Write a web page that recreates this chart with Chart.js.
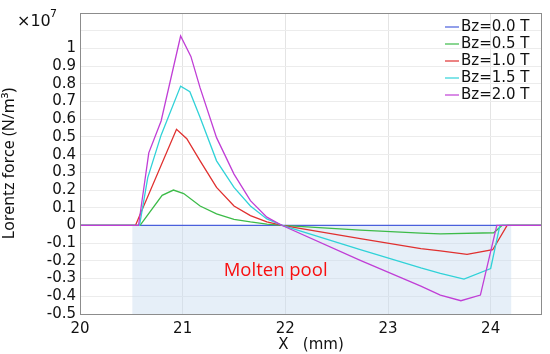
<!doctype html>
<html lang="en">
<head>
<meta charset="utf-8">
<title>Lorentz force</title>
<script src="https://cdn.jsdelivr.net/npm/chart.js@4.4.0/dist/chart.umd.min.js"></script>
<style>
  html, body { margin: 0; padding: 0; background: #fff; }
  #wrap { width: 550px; height: 354px; position: relative; }
</style>
</head>
<body>
<div id="wrap"><canvas id="lorentzChart" width="550" height="354"></canvas></div>
<script>
// values in units of 1e7 N/m^3, x in mm
var labels = ['Bz=0.0 T', 'Bz=0.5 T', 'Bz=1.0 T', 'Bz=1.5 T', 'Bz=2.0 T'];
var colors = ['#4a5fdc', '#3cbb48', '#e0302f', '#30d2d8', '#c03ed6'];
var xTicks = [20, 21, 22, 23, 24];

var x00 = [20, 24.5];
var y00 = [0, 0];
var x05 = [20, 20.585, 20.8, 20.91, 21.01, 21.17, 21.33, 21.5, 21.66, 21.82, 21.97, 22.73, 23.32, 23.51, 24.03, 24.11, 24.5];
var y05 = [0, 0, 0.17, 0.2, 0.18, 0.11, 0.066, 0.035, 0.02, 0.008, 0, -0.026, -0.043, -0.047, -0.041, 0, 0];
var x10 = [20, 20.54, 20.94, 21.04, 21.17, 21.33, 21.5, 21.66, 21.82, 21.97, 22.73, 23.32, 23.51, 23.77, 24.02, 24.16, 24.5];
var y10 = [0, 0, 0.543, 0.49, 0.365, 0.215, 0.11, 0.056, 0.02, 0, -0.074, -0.131, -0.144, -0.163, -0.137, 0, 0];
var x15 = [20, 20.58, 20.66, 20.79, 20.98, 21.07, 21.17, 21.33, 21.5, 21.66, 21.82, 21.97, 22.73, 23.32, 23.51, 23.74, 24.0, 24.09, 24.5];
var y15 = [0, 0, 0.27, 0.51, 0.787, 0.755, 0.61, 0.365, 0.215, 0.11, 0.037, 0, -0.137, -0.24, -0.27, -0.303, -0.243, 0, 0];
var x20 = [20, 20.57, 20.67, 20.79, 20.98, 21.08, 21.17, 21.33, 21.5, 21.66, 21.82, 21.97, 22.73, 23.32, 23.51, 23.71, 23.9, 24.06, 24.5];
var y20 = [0, 0, 0.41, 0.59, 1.07, 0.955, 0.777, 0.496, 0.29, 0.14, 0.047, 0, -0.197, -0.343, -0.393, -0.425, -0.393, 0, 0];

var poolX = [20.51, 24.2];
var poolY = [0, -0.5];

var xs = [x00, x05, x10, x15, x20];
var ys = [y00, y05, y10, y15, y20];

function pts(xa, ya) {
    return xa.map(function (v, i) { return { x: v, y: ya[i] }; });
}

var datasets = labels.map(function (lab, i) {
    return {
        label: lab,
        data: pts(xs[i], ys[i]),
        borderColor: colors[i],
        borderWidth: 1.3,
        pointRadius: 0,
        tension: 0,
        order: 4 - i
    };
});

// shaded molten pool + label, box, x10^7 and legend
var extras = {
    id: 'extras',
    beforeDatasetsDraw: function (chart) {
        var c = chart.ctx, sx = chart.scales.x, sy = chart.scales.y;
        var l = sx.getPixelForValue(poolX[0]), r = sx.getPixelForValue(poolX[1]);
        var t = sy.getPixelForValue(poolY[0]), b = sy.getPixelForValue(poolY[1]);
        c.save();
        c.fillStyle = 'rgba(200,220,240,0.45)';
        c.fillRect(l, t, r - l, b - t);
        c.fillStyle = '#f81010';
        c.font = '18.5px "Open Sans"';
        c.textBaseline = 'middle';
        c.fillText('Molten pool', sx.getPixelForValue(21.4), sy.getPixelForValue(-0.255));
        c.restore();
    },
    afterDraw: function (chart) {
        var c = chart.ctx, a = chart.chartArea;
        c.save();
        c.strokeStyle = '#8c8c8c';
        c.lineWidth = 1;
        c.strokeRect(a.left + 0.5, a.top + 0.5, a.right - a.left - 1, a.bottom - a.top);
        c.fillStyle = '#111';
        c.font = '16px "DejaVu Sans"';
        c.textBaseline = 'alphabetic';
        c.fillText('\u00d710', 17, 26);
        c.font = '11px "DejaVu Sans"';
        c.fillText('7', 50, 17);
        c.font = '15px "DejaVu Sans"';
        c.textBaseline = 'middle';
        for (var i = 0; i < labels.length; i++) {
            var y = 27 + i * 17;
            c.strokeStyle = colors[i];
            c.lineWidth = 1.2;
            c.beginPath();
            c.moveTo(445, y);
            c.lineTo(459, y);
            c.stroke();
            c.fillStyle = '#111';
            c.fillText(labels[i], 461, y);
        }
        c.restore();
    }
};

new Chart(document.getElementById('lorentzChart').getContext('2d'), {
    type: 'line',
    data: { datasets: datasets },
    options: {
        responsive: false,
        animation: false,
        layout: { padding: { left: 0, right: 8, top: 11, bottom: 0 } },
        plugins: { legend: { display: false }, tooltip: { enabled: false } },
        scales: {
            x: {
                type: 'linear',
                min: 20,
                max: 24.5,
                afterBuildTicks: function (s) {
                    s.ticks = xTicks.map(function (v) { return { value: v }; });
                },
                afterFit: function (s) { s.height = 40; },
                ticks: { autoSkip: false, color: '#111', font: { family: 'DejaVu Sans', size: 15 }, padding: 6, maxRotation: 0 },
                grid: { color: '#e4e4e4', drawTicks: false },
                border: { display: false },
                title: { display: true, text: 'X   (mm)', color: '#111', font: { family: 'DejaVu Sans', size: 15 }, padding: { top: -7, bottom: 0 } }
            },
            y: {
                min: -0.5,
                max: 1.2,
                afterFit: function (s) { s.width = 80; },
                ticks: {
                    stepSize: 0.1,
                    autoSkip: false,
                    color: '#111',
                    font: { family: 'DejaVu Sans', size: 15 },
                    padding: 4,
                    callback: function (v) {
                        var r = Math.round(v * 10) / 10;
                        if (r > 1.05) return '';
                        return String(r);
                    }
                },
                grid: { color: '#ececec', drawTicks: false },
                border: { display: false },
                title: { display: true, text: 'Lorentz force (N/m\u00b3)', color: '#111', font: { family: 'Noto Sans', size: 16 }, padding: { top: 0, bottom: 4 } }
            }
        }
    },
    plugins: [extras]
});
</script>
</body>
</html>
